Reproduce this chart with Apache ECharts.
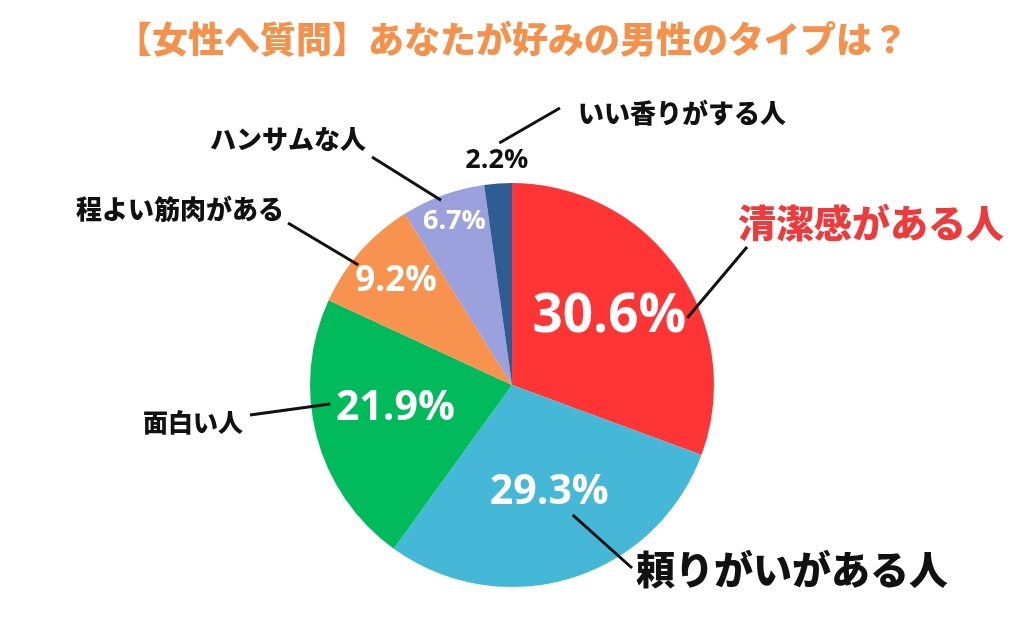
<!DOCTYPE html>
<html>
<head>
<meta charset="utf-8">
<script src="https://cdn.jsdelivr.net/npm/echarts@6/dist/echarts.min.js"></script>
<style>
html,body{margin:0;padding:0;background:#fff;}
#chart{width:1024px;height:633px;}
</style>
</head>
<body>
<div id="chart"></div>
<script>
// ---- data ----
const categories = ['清潔感がある人', '頼りがいがある人', '面白い人', '程よい筋肉がある', 'ハンサムな人', 'いい香りがする人'];
const values = [30.6, 29.3, 21.9, 9.2, 6.7, 2.2];
const titleText = '【女性へ質問】あなたが好みの男性のタイプは？';

// ---- styles / layout ----
const sliceColors = ['#FF3434', '#45B8D7', '#00BA5B', '#F7924F', '#9BA1DC', '#2E5C93'];
const CENTER = [512, 385];
const RADIUS = 202;
const JP = '"Noto Sans CJK JP", "Noto Sans", sans-serif';
const NUM = '"Open Sans", "Noto Sans", sans-serif';

// inside (percentage) labels: font size, colour, offset from default inside position
const pctStyle = [
  { size: 53, color: '#fff', dx: 12, dy: -9 },
  { size: 41, color: '#fff', dx: 7, dy: 8 },
  { size: 41, color: '#fff', dx: -16, dy: -3 },
  { size: 35, color: '#fff', dx: -38, dy: -35 },
  { size: 27, color: '#fff', dx: -22, dy: -66 },
  { size: 27, color: '#111', dx: -8, dy: -121 }
];
// outer (name) labels: size, colour, anchor, alignment, leader line start (polar) and end
const nameStyle = [
  { size: 38, color: '#EE3A3A', x: 738, y: 223, align: 'left',  a: 69,  f: 0.93, end: [747, 247] },
  { size: 39, color: '#111',    x: 636, y: 569, align: 'left',  a: 155, f: 0.71, end: [632, 568] },
  { size: 25, color: '#111',    x: 243, y: 422, align: 'right', a: 264, f: 0.905, end: [250, 415] },
  { size: 26, color: '#111',    x: 284, y: 209, align: 'right', a: 308, f: 0.965, end: [288, 223] },
  { size: 26, color: '#111',    x: 366, y: 139, align: 'right', a: 339, f: 0.98, end: [372, 157] },
  { size: 26, color: '#111',    x: 578, y: 113, align: 'left',  a: 357, f: 1.2,  end: [560, 108] }
];

function polar(angleDeg, frac) {
  const t = angleDeg * Math.PI / 180;
  return [CENTER[0] + Math.sin(t) * RADIUS * frac, CENTER[1] - Math.cos(t) * RADIUS * frac];
}

const innerData = categories.map((c, i) => ({
  name: c,
  value: values[i],
  itemStyle: { color: sliceColors[i] },
  label: { fontSize: pctStyle[i].size, color: pctStyle[i].color }
}));
const outerData = categories.map((c, i) => ({
  name: c,
  value: values[i],
  label: { fontSize: nameStyle[i].size, color: nameStyle[i].color }
}));

const chart = echarts.init(document.getElementById('chart'), null, { renderer: 'canvas' });
chart.setOption({
  backgroundColor: '#ffffff',
  animation: false,
  title: {
    text: titleText,
    left: 'center',
    top: 16,
    textStyle: { color: '#F5914A', fontSize: 36, fontWeight: 900, fontFamily: JP }
  },
  series: [
    {
      type: 'pie',
      center: CENTER,
      radius: [0, RADIUS],
      startAngle: 90,
      clockwise: true,
      avoidLabelOverlap: false,
      emphasis: { disabled: true },
      silent: true,
      z: 2,
      label: {
        show: true,
        position: 'inside',
        formatter: p => p.value.toFixed(1) + '%',
        fontFamily: NUM,
        fontWeight: 700
      },
      labelLine: { show: false },
      labelLayout: p => ({ dx: pctStyle[p.dataIndex].dx, dy: pctStyle[p.dataIndex].dy }),
      data: innerData
    },
    {
      type: 'pie',
      center: CENTER,
      radius: [0, RADIUS],
      startAngle: 90,
      clockwise: true,
      avoidLabelOverlap: false,
      emphasis: { disabled: true },
      silent: true,
      z: 3,
      itemStyle: { color: 'rgba(0,0,0,0)' },
      label: {
        show: true,
        position: 'outside',
        formatter: '{b}',
        fontFamily: JP,
        fontWeight: 900
      },
      labelLine: { show: true, length: 10, length2: 0, lineStyle: { color: '#111', width: 3 } },
      labelLayout: p => {
        const s = nameStyle[p.dataIndex];
        return {
          x: s.x, y: s.y, align: s.align, verticalAlign: 'middle',
          labelLinePoints: [polar(s.a, s.f), s.end]
        };
      },
      data: outerData
    }
  ]
});
</script>
</body>
</html>
